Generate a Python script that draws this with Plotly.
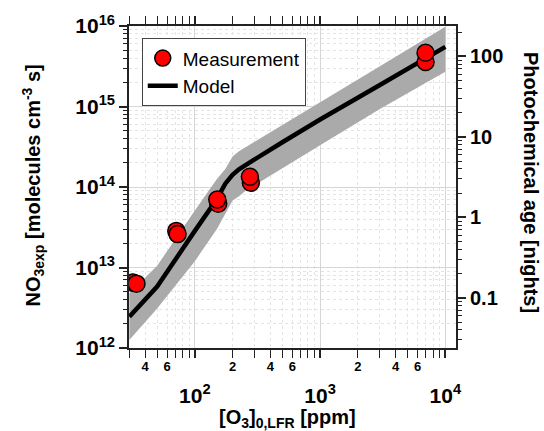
import numpy as np
import plotly.graph_objects as go

# ---- data ----
o3_model = [30, 50, 100, 150, 175, 200, 225, 250, 300, 500, 1000, 3000, 10000]
no3_model = [2.45e12, 5.8e12, 2.85e13, 7.1e13, 1.1e14, 1.42e14, 1.66e14, 1.85e14, 2.2e14, 3.6e14, 6.9e14, 1.85e15, 5.5e15]
no3_upper = [4.8e12, 1.05e13, 5.1e13, 1.26e14, 1.67e14, 2.4e14, 2.79e14, 3.1e14, 3.65e14, 5.9e14, 1.13e15, 3.2e15, 9.8e15]
no3_lower = [1.26e12, 3.1e12, 1.2e13, 3.0e13, 4.65e13, 6.8e13, 7.7e13, 8.8e13, 1.05e14, 1.72e14, 3.3e14, 9.3e14, 2.7e15]

o3_meas = [32.1, 34.2, 71.1, 72.8, 153.6, 151, 280, 275, 6950, 6950]
no3_meas = [6.5e12, 6.3e12, 2.85e13, 2.6e13, 6.2e13, 7.0e13, 1.13e14, 1.34e14, 3.57e15, 4.65e15]

x_major = [100, 1000, 10000]
x_major_text = ["10<sup>2</sup>", "10<sup>3</sup>", "10<sup>4</sup>"]
x_minor_lab = [40, 60, 200, 400, 600, 2000, 4000, 6000]
x_minor_text = ["4", "6", "2", "4", "6", "2", "4", "6"]
y_major = [1e12, 1e13, 1e14, 1e15, 1e16]
y_major_text = ["10<sup>12</sup>", "10<sup>13</sup>", "10<sup>14</sup>", "10<sup>15</sup>", "10<sup>16</sup>"]
age_major = [0.1, 1, 10, 100]
age_major_text = ["0.1", "1", "10", "100"]

# axis scale parameters
x_range = [np.log10(29.8), 4.085]
y_range = [12, 16]
age_offset = 13.623  # log10(NO3exp) corresponding to 1 night
y2_range = [y_range[0] - age_offset, y_range[1] - age_offset]

def minors(lo, hi):
    out = []
    for d in range(lo, hi):
        for m in range(2, 10):
            out.append(m * 10.0 ** d)
    return out

FONT = "Liberation Sans, Arial, sans-serif"

fig = go.Figure()
fig.add_trace(go.Scatter(x=o3_model, y=no3_lower, mode="lines", line=dict(width=0),
                         showlegend=False, hoverinfo="skip"))
fig.add_trace(go.Scatter(x=o3_model, y=no3_upper, mode="lines", line=dict(width=0),
                         fill="tonexty", fillcolor="#aaaaaa", showlegend=False, hoverinfo="skip"))
fig.add_trace(go.Scatter(x=o3_model, y=no3_model, mode="lines", name="Model",
                         line=dict(color="black", width=4.5)))
fig.add_trace(go.Scatter(x=o3_meas, y=no3_meas, mode="markers", name="Measurement",
                         xaxis="x2", yaxis="y",
                         marker=dict(color="#ff0000", size=17, line=dict(color="black", width=1.5))))
# empty trace so the right-hand (photochemical age) axis is drawn
fig.add_trace(go.Scatter(x=[], y=[], xaxis="x", yaxis="y2", showlegend=False, hoverinfo="skip"))

grid_major = "#d6d6d6"
grid_minor = "#e4e4e4"
axis_col = "#222222"

fig.update_layout(
    width=544, height=431,
    margin=dict(l=129, r=88, t=26, b=83, autoexpand=False),
    paper_bgcolor="white", plot_bgcolor="white",
    font=dict(family=FONT, color="black"),
    legend=dict(x=0.039, y=0.962, xanchor="left", yanchor="top",
                bgcolor="white", bordercolor="#444", borderwidth=1,
                font=dict(size=19, family=FONT), traceorder="reversed"),
    xaxis=dict(type="log", range=x_range, tickmode="array", tickvals=x_major, ticktext=x_major_text,
               tickfont=dict(size=21, weight="bold", family=FONT), automargin=False,
               ticks="outside", ticklen=8, tickwidth=1.5, tickcolor=axis_col,
               ticklabelstandoff=20,
               showline=True, linecolor=axis_col, linewidth=1.5, mirror="allticks",
               showgrid=True, gridcolor=grid_major, gridwidth=1, zeroline=False,
               minor=dict(tickmode="array", tickvals=minors(1, 4), ticks="outside", ticklen=4,
                          tickwidth=1, tickcolor=axis_col, showgrid=True, gridcolor=grid_minor,
                          griddash="dot", gridwidth=1)),
    xaxis2=dict(type="log", range=x_range, overlaying="x", anchor="y", side="bottom",
                tickmode="array", tickvals=x_minor_lab, ticktext=x_minor_text, automargin=False,
                tickfont=dict(size=13, weight="bold", family=FONT),
                ticks="", ticklabelstandoff=9, showline=False, showgrid=False, zeroline=False),
    yaxis=dict(type="log", range=y_range, tickmode="array", tickvals=y_major, ticktext=y_major_text,
               tickfont=dict(size=21, weight="bold", family=FONT), automargin=False,
               ticks="outside", ticklen=8, tickwidth=1.5, tickcolor=axis_col,
               showline=True, linecolor=axis_col, linewidth=1.5, mirror=True,
               showgrid=True, gridcolor=grid_major, gridwidth=1, zeroline=False,
               minor=dict(tickmode="array", tickvals=minors(12, 16), ticks="outside", ticklen=4,
                          tickwidth=1, tickcolor=axis_col, showgrid=True, gridcolor=grid_minor,
                          griddash="dot", gridwidth=1)),
    yaxis2=dict(type="log", range=y2_range, overlaying="y", anchor="x", side="right",
                tickmode="array", tickvals=age_major, ticktext=age_major_text, automargin=False,
                tickfont=dict(size=20, weight="bold", family=FONT),
                ticks="outside", ticklen=9, tickwidth=1.5, tickcolor=axis_col,
                showline=False, showgrid=False, zeroline=False,
                minor=dict(tickmode="array", tickvals=minors(-2, 3), ticks="outside", ticklen=5,
                           tickwidth=1, tickcolor=axis_col, showgrid=False)),
)

fig.add_annotation(text="NO<sub>3exp</sub> [molecules cm<sup>-3</sup> s]",
                   xref="paper", yref="paper", x=0, y=0.5, xanchor="center", yanchor="middle",
                   xshift=-96, yshift=1.5, textangle=-90, showarrow=False,
                   font=dict(size=20, weight="bold", family=FONT))
fig.add_annotation(text="Photochemical age [nights]",
                   xref="paper", yref="paper", x=1, y=0.5, xanchor="center", yanchor="middle",
                   xshift=75, yshift=5, textangle=90, showarrow=False,
                   font=dict(size=20, weight="bold", family=FONT))
fig.add_annotation(text="[O<sub>3</sub>]<sub>0,LFR</sub> [ppm]",
                   xref="paper", yref="paper", x=0.5, y=0, xanchor="center", yanchor="top",
                   xshift=-5, yshift=-56, showarrow=False,
                   font=dict(size=20, weight="bold", family=FONT))

fig.write_html("out.html", config={"displayModeBar": False},
               post_script="document.body.style.margin='0';document.body.style.overflow='hidden';")
